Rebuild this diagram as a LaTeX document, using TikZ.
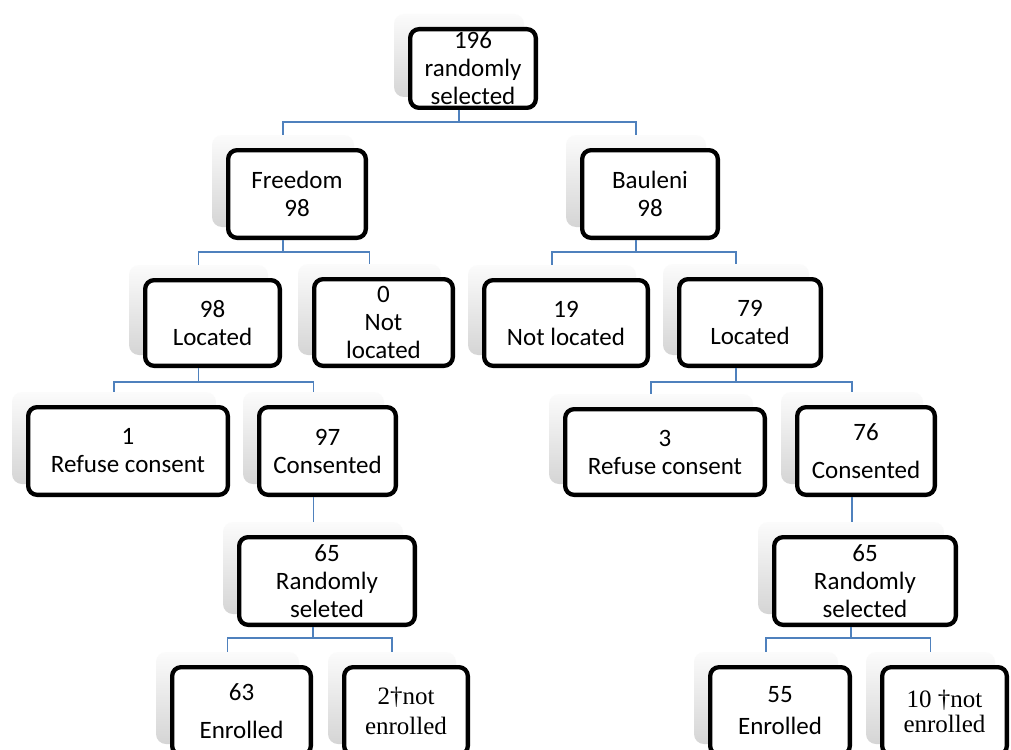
\documentclass[tikz,border=0pt]{standalone}
\usepackage{fontspec}
\setmainfont{Carlito}
\newfontfamily\serifb{Liberation Serif}
\definecolor{connblue}{HTML}{4F81BD}
\tikzset{
  shadowbox/.style={draw=none, rounded corners=10pt, top color=gray!3, bottom color=gray!33, inner sep=0pt},
  frontbox/.style={draw=black, line width=4.3pt, rounded corners=9pt, fill=white, align=center, inner sep=0pt, font=\fontsize{25}{28}\selectfont},
  serifbox/.style={font=\serifb\fontsize{25}{28}\selectfont},
  conn/.style={draw=connblue, line width=1.1pt}
}
\newcommand\flowbox[7][]{%
  \node[shadowbox, minimum width=#5pt, minimum height=#6pt] (s#2) at ({#3-14},{#4-13}) {};
  \node[frontbox, minimum width=#5pt-4.3pt, minimum height=#6pt-4.3pt, #1] (f#2) at (#3,#4) {#7};
}
\begin{document}
\begin{tikzpicture}[x=1pt, y=-1pt]
\useasboundingbox (0,0) rectangle (1011,749);
\clip (0,0) rectangle (1011,749);
\fill[white] (0,0) rectangle (1011,749);
\flowbox{1}{473}{68.5}{130}{83}{196\\randomly\\selected}
\flowbox{2}{297}{194}{142}{92}{Freedom\\98}
\flowbox{3}{650}{194}{140}{92}{Bauleni\\98}
\flowbox{4}{212.5}{323}{139}{90}{98\\Located}
\flowbox{5}{383.5}{322.5}{143}{91}{0\\Not\\located}
\flowbox{6}{566}{323}{168}{90}{19\\Not located}
\flowbox{7}{750}{322.5}{146}{91}{79\\Located}
\flowbox{8}{128}{451}{204}{92}{1\\Refuse consent}
\flowbox{9}{327.5}{451}{141}{92}{97\\Consented}
\flowbox{10}{665}{452}{204}{90}{3\\Refuse consent}
\flowbox{11}{866}{451}{142}{92}{76\\[10pt]Consented}
\flowbox{12}{327}{581}{180}{92}{65\\Randomly\\seleted}
\flowbox{13}{865}{581}{186}{92}{65\\Randomly\\selected}
\flowbox{14}{241.5}{711}{143}{92}{63\\[10pt]Enrolled}
\flowbox[serifbox]{15}{406}{711}{128}{92}{2†not\\[2pt]enrolled}
\flowbox{16}{780}{711}{144}{92}{55\\[4pt]Enrolled}
\flowbox[serifbox]{17}{944.5}{711}{129}{92}{10 †not\\[-3pt]enrolled}
% connectors
\draw[conn] (s1.south |- f1.south) -- ++(0,12) -| (s2.north);
\draw[conn] (s1.south |- f1.south) -- ++(0,12) -| (s3.north);
\draw[conn] (s2.south |- f2.south) -- ++(0,12) -| (s4.north);
\draw[conn] (s2.south |- f2.south) -- ++(0,12) -| (s5.north);
\draw[conn] (s3.south |- f3.south) -- ++(0,12) -| (s6.north);
\draw[conn] (s3.south |- f3.south) -- ++(0,12) -| (s7.north);
\draw[conn] (s4.south |- f4.south) -- ++(0,14) -| (s8.north);
\draw[conn] (s4.south |- f4.south) -- ++(0,14) -| (s9.north);
\draw[conn] (s7.south |- f7.south) -- ++(0,14) -| (s10.north);
\draw[conn] (s7.south |- f7.south) -- ++(0,14) -| (s11.north);
\draw[conn] (s9.south |- f9.south) -- (s9.south |- s12.north);
\draw[conn] (s11.south |- f11.south) -- (s11.south |- s13.north);
\draw[conn] (s12.south |- f12.south) -- ++(0,11) -| (s14.north);
\draw[conn] (s12.south |- f12.south) -- ++(0,11) -| (s15.north);
\draw[conn] (s13.south |- f13.south) -- ++(0,11) -| (s16.north);
\draw[conn] (s13.south |- f13.south) -- ++(0,11) -| (s17.north);
\end{tikzpicture}
\end{document}
